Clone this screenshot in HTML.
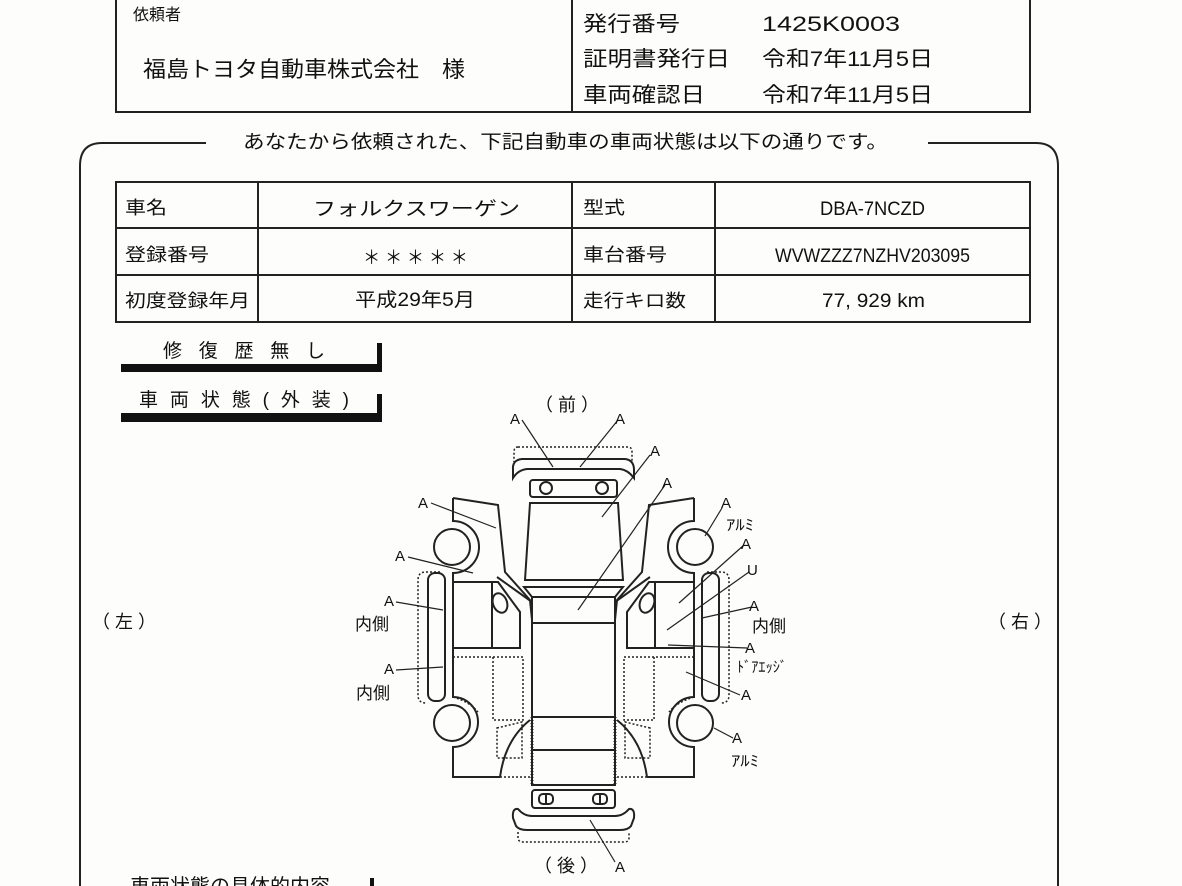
<!DOCTYPE html>
<html><head><meta charset="utf-8"><style>
html,body{margin:0;padding:0;background:#fff;}
svg{display:block;}
text{font-family:"Liberation Sans","Noto Sans CJK JP",sans-serif;fill:#111;}
</style></head><body>
<svg width="1182" height="886" viewBox="0 0 1182 886" xmlns="http://www.w3.org/2000/svg">
<rect width="1182" height="886" fill="#fdfdfb"/>
<!-- top box -->
<g fill="none" stroke="#222" stroke-width="2">
<path d="M116,-2 V112 H1030 V-2"/>
<line x1="572" y1="-2" x2="572" y2="112"/>
</g>
<text x="133" y="20" font-size="16">依頼者</text>
<text x="143" y="77" font-size="22" textLength="322" lengthAdjust="spacingAndGlyphs">福島トヨタ自動車株式会社　様</text>
<text x="583" y="31" font-size="21" textLength="97" lengthAdjust="spacingAndGlyphs">発行番号</text>
<text x="762" y="31" font-size="21" textLength="138" lengthAdjust="spacingAndGlyphs">1425K0003</text>
<text x="583" y="66" font-size="21" textLength="147" lengthAdjust="spacingAndGlyphs">証明書発行日</text>
<text x="762" y="66" font-size="21" textLength="171" lengthAdjust="spacingAndGlyphs">令和7年11月5日</text>
<text x="583" y="102" font-size="21" textLength="122" lengthAdjust="spacingAndGlyphs">車両確認日</text>
<text x="762" y="102" font-size="21" textLength="171" lengthAdjust="spacingAndGlyphs">令和7年11月5日</text>
<!-- rounded frame -->
<g fill="none" stroke="#222" stroke-width="2">
<path d="M206,143 H102 Q80,143 80,166 V890"/>
<path d="M928,143 H1036 Q1058,143 1058,166 V890"/>
</g>
<text x="243" y="148" font-size="19" textLength="645" lengthAdjust="spacingAndGlyphs">あなたから依頼された、下記自動車の車両状態は以下の通りです。</text>
<!-- table -->
<g fill="none" stroke="#222" stroke-width="2">
<rect x="116" y="182" width="914" height="140"/>
<line x1="116" y1="228" x2="1030" y2="228"/>
<line x1="116" y1="275" x2="1030" y2="275"/>
<line x1="258" y1="182" x2="258" y2="322"/>
<line x1="572" y1="182" x2="572" y2="322"/>
<line x1="715" y1="182" x2="715" y2="322"/>
</g>
<g font-size="18">
<text x="125" y="214" textLength="42" lengthAdjust="spacingAndGlyphs">車名</text>
<text x="125" y="261" textLength="84" lengthAdjust="spacingAndGlyphs">登録番号</text>
<text x="125" y="307" textLength="125" lengthAdjust="spacingAndGlyphs">初度登録年月</text>
<text x="583" y="214" textLength="42" lengthAdjust="spacingAndGlyphs">型式</text>
<text x="583" y="261" textLength="84" lengthAdjust="spacingAndGlyphs">車台番号</text>
<text x="583" y="307" textLength="103" lengthAdjust="spacingAndGlyphs">走行キロ数</text>
</g>
<g font-size="19">
<text x="313" y="215" textLength="207" lengthAdjust="spacingAndGlyphs">フォルクスワーゲン</text>
<text x="363" y="264" textLength="105" lengthAdjust="spacingAndGlyphs">＊ ＊ ＊ ＊ ＊</text>
<text x="355" y="306" textLength="120" lengthAdjust="spacingAndGlyphs">平成29年5月</text>
<text x="820" y="215" textLength="105" lengthAdjust="spacingAndGlyphs">DBA-7NCZD</text>
<text x="775" y="262" textLength="195" lengthAdjust="spacingAndGlyphs">WVWZZZ7NZHV203095</text>
<text x="822" y="307" textLength="103" lengthAdjust="spacingAndGlyphs">77, 929  km</text>
</g>
<!-- section bars -->
<text x="163" y="357" font-size="19" textLength="162" lengthAdjust="spacing">修復歴無し</text>
<rect x="121" y="364" width="260" height="8" fill="#111"/>
<rect x="377" y="343" width="5" height="29" fill="#111"/>
<text x="139" y="406" font-size="19" textLength="210" lengthAdjust="spacing">車両状態(外装)</text>
<rect x="121" y="413" width="260" height="9" fill="#111"/>
<rect x="377" y="394" width="5" height="28" fill="#111"/>
<text x="130" y="893" font-size="20">車両状態の具体的内容</text>
<rect x="370" y="878" width="4" height="10" fill="#111"/>
<text x="92" y="628" font-size="18">（ 左 ）</text>
<text x="988" y="628" font-size="18">（ 右 ）</text>
<text x="535" y="411" font-size="18">（ 前 ）</text>
<text x="534" y="872" font-size="18">（ 後 ）</text>
<!-- car -->
<g fill="none" stroke="#222" stroke-width="2">
<path d="M518,447 H628 Q632,447 632,452 V462" stroke-dasharray="2,2" stroke-width="1.5"/>
<path d="M518,447 Q514,447 514,452 V462" stroke-dasharray="2,2" stroke-width="1.5"/>
<path d="M513,470 Q512,460 522,459 H625 Q634,460 634,470 L634,478 Q628,470 620,469 H527 Q518,470 513,478 Z"/>
<rect x="530" y="480" width="87" height="17" rx="3"/>
<circle cx="546" cy="488" r="6"/><circle cx="602" cy="488" r="6"/>
<path d="M530,503 H618 L623,580 H525 Z"/>
<path d="M524,587 H623 L615,597 H532 Z"/>
<rect x="532" y="597" width="83" height="120"/>
<line x1="532" y1="623" x2="615" y2="623"/>
<rect x="532" y="717" width="83" height="33"/>
<rect x="532" y="750" width="83" height="35"/>
<rect x="532" y="790" width="83" height="18" rx="3"/>
<rect x="539" y="794" width="14" height="10" rx="4"/><line x1="546" y1="794" x2="546" y2="804"/>
<rect x="593" y="794" width="14" height="10" rx="4"/><line x1="600" y1="794" x2="600" y2="804"/>
<path d="M513,818 Q512,808 518,809 Q524,816 532,816 H615 Q623,816 629,809 Q635,808 634,818 L631,826 Q628,830 620,830 H527 Q519,830 516,826 Z"/>
<path d="M518,832 V838 Q518,842 524,842 H624 Q629,842 629,838 V832" stroke-dasharray="2,2" stroke-width="1.5"/>
<line x1="532" y1="717" x2="532" y2="785" stroke-dasharray="1,2" stroke-width="3"/>
<line x1="615" y1="717" x2="615" y2="785" stroke-dasharray="1,2" stroke-width="3"/>
</g>
<g id="side" fill="none" stroke="#222" stroke-width="2">
<path d="M453,498 L498,505 L505,572 L530,600 L532,620 M453,498 V521 A26,26 0 0 1 479,547 A26,26 0 0 1 453,573 V697 A25,25 0 0 1 478,722 A25,25 0 0 1 453,747 V777 H500"/>
<circle cx="452" cy="547" r="18"/>
<circle cx="452" cy="723" r="18"/>
<path d="M453,582 H498 L520,612 V648 H453"/>
<line x1="492" y1="582" x2="492" y2="648"/>
<path d="M497,577 L532,602" />
<ellipse cx="500" cy="603" rx="7" ry="10" transform="rotate(-20 500 603)"/>
<path d="M453,657 H523 V720 L493,720 M493,657 V720 M453,697 Q470,702 478,712" stroke-dasharray="2,2" stroke-width="1.5"/>
<path d="M497,728 L522,722 V758 H497 Z" stroke-dasharray="2,2" stroke-width="1.5"/>
<path d="M500,777 Q505,740 530,720" />
<path d="M500,777 H530" stroke-dasharray="2,2" stroke-width="1.5"/>
<rect x="428" y="573" width="17" height="128" rx="7"/>
<path d="M440,572 H426 Q418,572 418,580 V695 Q418,703 426,703" stroke-dasharray="2,2" stroke-width="1.5"/>
</g>
<use href="#side" transform="translate(1147,0) scale(-1,1)"/>
<!-- annotations -->
<g stroke="#222" stroke-width="1.2">
<line x1="522" y1="420" x2="553" y2="467"/>
<line x1="618" y1="420" x2="580" y2="467"/>
<line x1="650" y1="455" x2="602" y2="517"/>
<line x1="665" y1="485" x2="578" y2="610"/>
<line x1="431" y1="503" x2="496" y2="528"/>
<line x1="408" y1="557" x2="473" y2="573"/>
<line x1="396" y1="602" x2="443" y2="610"/>
<line x1="396" y1="670" x2="443" y2="667"/>
<line x1="722" y1="508" x2="705" y2="536"/>
<line x1="744" y1="545" x2="679" y2="603"/>
<line x1="749" y1="572" x2="667" y2="630"/>
<line x1="752" y1="607" x2="702" y2="618"/>
<line x1="747" y1="648" x2="668" y2="645"/>
<line x1="686" y1="672" x2="740" y2="695"/>
<line x1="714" y1="728" x2="733" y2="738"/>
<line x1="590" y1="820" x2="615" y2="862"/>
</g>
<g font-size="15">
<text x="510" y="424">A</text>
<text x="615" y="424">A</text>
<text x="650" y="456">A</text>
<text x="662" y="488">A</text>
<text x="418" y="508">A</text>
<text x="395" y="561">A</text>
<text x="384" y="606">A</text>
<text x="384" y="674">A</text>
<text x="721" y="508">A</text>
<text x="741" y="549">A</text>
<text x="747" y="575">U</text>
<text x="749" y="611">A</text>
<text x="745" y="653">A</text>
<text x="741" y="700">A</text>
<text x="732" y="743">A</text>
<text x="615" y="872">A</text>
</g>
<g font-size="17">
<text x="355" y="630">内側</text>
<text x="356" y="699">内側</text>
<text x="752" y="632">内側</text>
</g>
<g font-size="15">
<text x="726" y="530" textLength="28" lengthAdjust="spacingAndGlyphs">ｱﾙﾐ</text>
<text x="737" y="672" textLength="50" lengthAdjust="spacingAndGlyphs">ﾄﾞｱｴｯｼﾞ</text>
<text x="731" y="766" textLength="28" lengthAdjust="spacingAndGlyphs">ｱﾙﾐ</text>
</g>
</svg>
</body></html>
